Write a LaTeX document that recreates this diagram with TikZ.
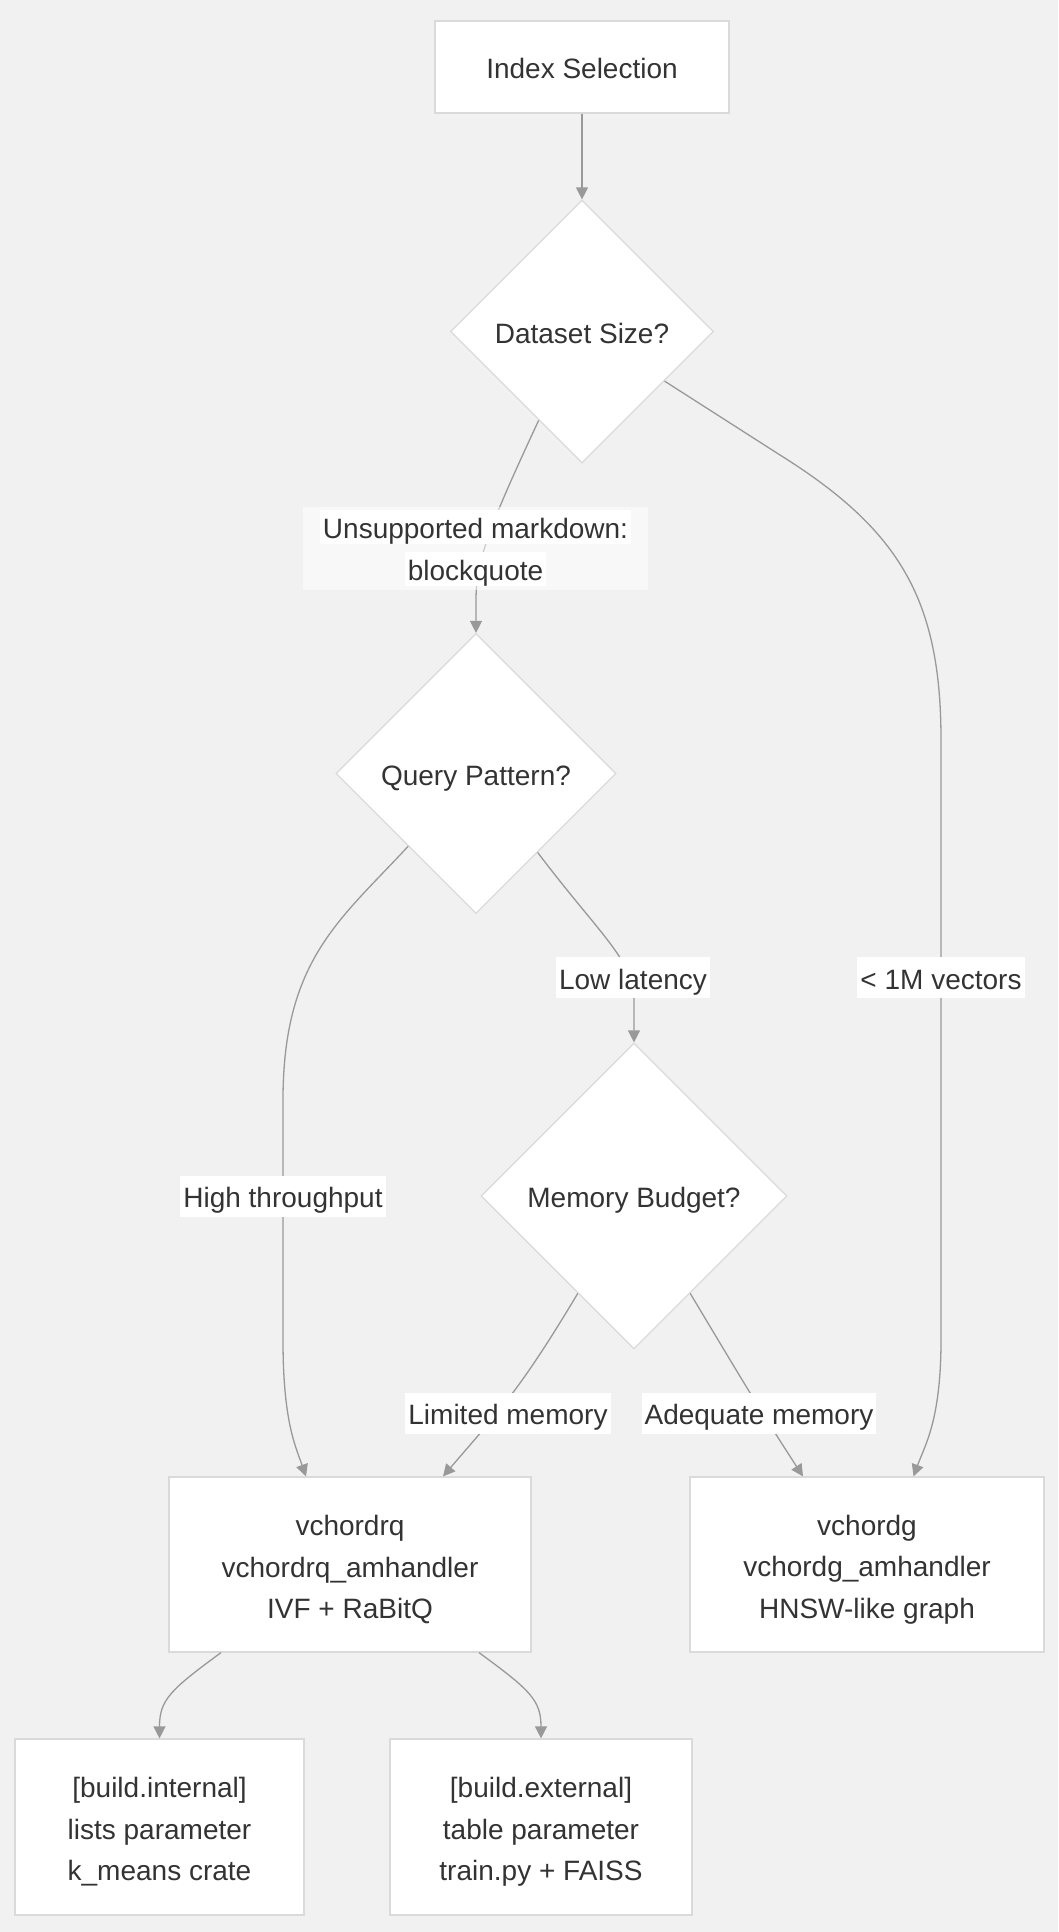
\documentclass[tikz,border=0pt]{standalone}
\usepackage{fontspec}
\setmainfont{Liberation Sans}
\usetikzlibrary{shapes.geometric,arrows.meta}
\definecolor{bg}{HTML}{F1F1F1}
\definecolor{bord}{HTML}{DADADA}
\definecolor{edgec}{HTML}{999999}
\definecolor{txt}{HTML}{333333}
\begin{document}
\begin{tikzpicture}[x=1bp,y=-1bp,
 every node/.style={font=\fontsize{28bp}{41.5bp}\selectfont, text=txt},
 one/.style={text height=28.5bp, text depth=5bp},
 box/.style={draw=bord, fill=white, line width=1.2bp, inner sep=0pt, align=center},
 boxtext/.style={align=center, inner sep=0pt},
 dia/.style={diamond, aspect=1, draw=bord, fill=white, line width=1.2bp, inner sep=0pt, one},
 lbl/.style={fill=white, inner xsep=3bp, inner ysep=0pt, minimum height=41bp, one},
 conn/.style={draw=edgec, line width=1.3bp, -{Triangle[length=12bp,width=12bp]}},
]
\fill[bg] (0,0) rectangle (1058,1932);
\useasboundingbox (0,0) rectangle (1058,1932);

\node[box, one, minimum width=294bp, minimum height=92bp] (idx) at (582,67) {Index Selection};
\node[dia, minimum width=263bp, minimum height=263bp] (ds) at (582,331.5) {Dataset Size?};
\node[dia, minimum width=280bp, minimum height=280bp] (qp) at (476,773.5) {Query Pattern?};
\node[dia, minimum width=306bp, minimum height=306bp] (mb) at (634,1196) {Memory Budget?};
\node[box, minimum width=362bp, minimum height=175bp] (rq) at (350,1564.5) {};
\node[box, minimum width=354bp, minimum height=175bp] (vg) at (867,1564.5) {};
\node[box, minimum width=289bp, minimum height=176bp] (bi) at (159.5,1827) {};
\node[box, minimum width=302bp, minimum height=176bp] (be) at (541,1827) {};
\node[boxtext] (rqt) at ([yshift=-5bp]rq.center) {vchordrq\\vchordrq\_amhandler\\IVF + RaBitQ};
\node[boxtext] (vgt) at ([yshift=-5bp]vg.center) {vchordg\\vchordg\_amhandler\\HNSW-like graph};
\node[boxtext] (bit) at ([yshift=-5bp]bi.center) {[build.internal]\\lists parameter\\k\_means crate};
\node[boxtext] (bet) at ([yshift=-5bp]be.center) {[build.external]\\table parameter\\train.py + FAISS};

\draw[conn] (idx.south) -- (ds.north);
\draw[conn] (ds.-116) .. controls (490,525) and (476,560) .. (476,600) -- (qp.north);
\draw[conn] (ds.-31) -- (780,455) .. controls (900,530) and (941,600) .. (941,740) -- (941,1340) .. controls (941,1420) and (925,1445) .. ([xshift=46.5bp]vg.north);
\draw[conn] (qp.-133) .. controls (340,920) and (283,960) .. (283,1100) -- (283,1340) .. controls (283,1420) and (295,1445) .. ([xshift=-44bp]rq.north);
\draw[conn] (qp.-52) .. controls (600,935) and (634,960) .. (634,1000) -- (mb.north);
\draw[conn] (mb.-120) .. controls (520,1390) and (500,1410) .. ([xshift=93bp]rq.north);
\draw[conn] (mb.-60) .. controls (745,1385) and (760,1410) .. ([xshift=-64bp]vg.north);
\draw[conn] ([xshift=-129bp]rq.south) .. controls (170,1690) and (159.5,1700) .. (bi.north);
\draw[conn] ([xshift=129bp]rq.south) .. controls (530,1690) and (541,1700) .. (be.north);

\node[fill=white, fill opacity=0.5, minimum width=345bp, minimum height=83bp, inner sep=0pt] (l0) at (475.5,548.5) {};
\node[lbl, minimum height=32bp] (l0a) at (475.5,527) {Unsupported markdown:};
\node[lbl, minimum height=32bp] (l0b) at (475.5,569) {blockquote};
\node[lbl] (l1) at (941,977.5) {< 1M vectors};
\node[lbl] (l2) at (283,1196) {High throughput};
\node[lbl] (l3) at (633,977.5) {Low latency};
\node[lbl] (l4) at (508,1413) {Limited memory};
\node[lbl] (l5) at (759,1413) {Adequate memory};
\end{tikzpicture}
\end{document}
